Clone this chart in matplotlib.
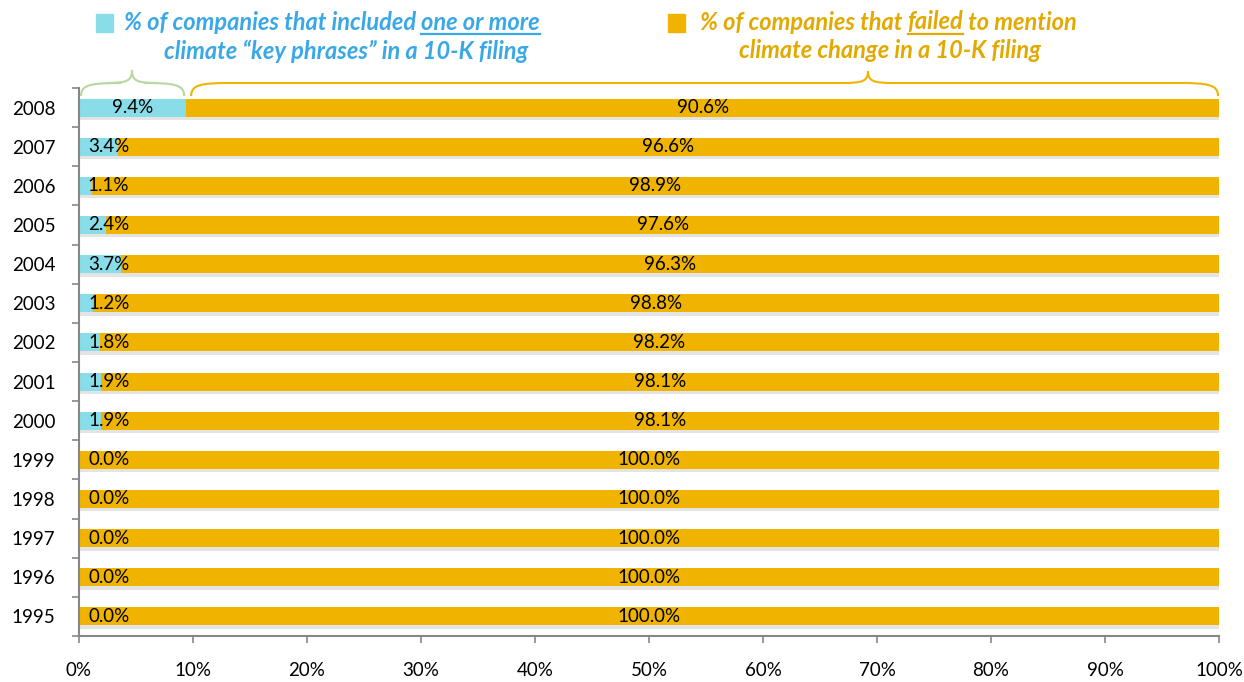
import matplotlib
matplotlib.use("Agg")
import matplotlib.pyplot as plt
import matplotlib.patheffects as pe
from matplotlib.path import Path
from matplotlib.patches import PathPatch, Rectangle

years = ["1995", "1996", "1997", "1998", "1999", "2000", "2001",
         "2002", "2003", "2004", "2005", "2006", "2007", "2008"]
included = [0.0, 0.0, 0.0, 0.0, 0.0, 1.9, 1.9, 1.8, 1.2, 3.7, 2.4, 1.1, 3.4, 9.4]
failed = [100.0, 100.0, 100.0, 100.0, 100.0, 98.1, 98.1, 98.2, 98.8, 96.3, 97.6, 98.9, 96.6, 90.6]
xticks = [0, 10, 20, 30, 40, 50, 60, 70, 80, 90, 100]

CYAN = "#88DDE9"
GOLD = "#F0B400"
BLUE_TXT = "#3AA8E6"
GOLD_TXT = "#E2A900"
GREEN = "#B9D7A0"
AXIS = "#878787"

plt.rcParams["font.family"] = ["Lato", "DejaVu Sans"]

W, H = 1244, 682
fig = plt.figure(figsize=(W / 100, H / 100), dpi=100)
ax = fig.add_axes([79 / W, 1 - 636 / H, (1219 - 79) / W, (636 - 88) / H])

shadow = [pe.SimplePatchShadow(offset=(1, -2.5), shadow_rgbFace="#888888", alpha=0.22), pe.Normal()]
ypos = list(range(len(years)))
b1 = ax.barh(ypos, included, height=0.46, color=CYAN, zorder=2)
b2 = ax.barh(ypos, failed, left=included, height=0.46, color=GOLD, zorder=2)
for bar in list(b1) + list(b2):
    bar.set_path_effects(shadow)

lab = 13.5
for y, a, b in zip(ypos, included, failed):
    ax.text(max(a / 2, 2.6), y, f"{a:.1f}%", ha="center", va="center", fontsize=lab, color="black", zorder=3)
    ax.text(a + b / 2, y, f"{b:.1f}%", ha="center", va="center", fontsize=lab, color="black", zorder=3)

ax.set_xlim(0, 100)
ax.set_ylim(-0.5, len(years) - 0.5)
ax.set_xticks(xticks)
ax.set_xticklabels([f"{t}%" for t in xticks], fontsize=lab)
ax.set_yticks([i - 0.5 for i in range(len(years) + 1)])
ax.set_yticklabels([])
ax.set_yticks(ypos, minor=True)
ax.set_yticklabels(years, minor=True, fontsize=lab)
ax.tick_params(axis="y", which="minor", length=0, pad=17)
ax.tick_params(axis="y", which="major", length=5, color=AXIS, width=1.2)
ax.tick_params(axis="x", length=5, color=AXIS, width=1.2, pad=14)
for s in ["top", "right"]:
    ax.spines[s].set_visible(False)
for s in ["left", "bottom"]:
    ax.spines[s].set_color(AXIS)
    ax.spines[s].set_linewidth(1.5)


def px(x, y):
    return (x / W, 1 - y / H)


def brace(x0, x1, tip, ybase, ytop, ytip, color):
    # curly brace drawn in figure pixel coordinates
    c = 0.6 * (ybase - ytop)
    verts = [px(x0, ybase), px(x0, ytop + c * 0.2), px(x0 + 10, ytop), px(x0 + 40, ytop),
             px(tip - 25, ytop), px(tip - 5, ytop), px(tip, ytop - 2), px(tip, ytip),
             px(tip, ytop - 2), px(tip + 5, ytop), px(tip + 25, ytop), px(x1 - 40, ytop),
             px(x1 - 10, ytop), px(x1, ytop + c * 0.2), px(x1, ybase)]
    codes = [Path.MOVETO, Path.CURVE4, Path.CURVE4, Path.CURVE4, Path.LINETO,
             Path.CURVE4, Path.CURVE4, Path.CURVE4,
             Path.CURVE4, Path.CURVE4, Path.CURVE4, Path.LINETO,
             Path.CURVE4, Path.CURVE4, Path.CURVE4]
    patch = PathPatch(Path(verts, codes), facecolor="none", edgecolor=color, lw=1.5,
                      transform=fig.transFigure, clip_on=False)
    fig.add_artist(patch)


cy_end = 79 + included[-1] / 100 * 1140
brace(81, cy_end - 2, 132, 96, 83, 70, GREEN)
brace(cy_end + 5, 1218, 868, 96, 83, 71, GOLD)

# legend entries
fig.add_artist(Rectangle(px(96, 32), 17 / W, 18 / H, transform=fig.transFigure, color=CYAN))
fig.add_artist(Rectangle(px(668, 32), 17 / W, 18 / H, transform=fig.transFigure, color=GOLD))

tkw = dict(fontsize=17, fontweight="bold", fontstyle="italic", va="center", ha="left")
renderer = fig.canvas.get_renderer()


def underlined_line(x, y, parts, color):
    # parts: list of (text, underline)
    cur = x
    for txt, ul in parts:
        t = fig.text(*px(cur, y), txt, color=color, **tkw)
        bb = t.get_window_extent(renderer)
        if ul:
            fig.add_artist(plt.Line2D([bb.x0 / W, bb.x1 / W], [1 - (y + 12) / H] * 2,
                                      color=color, lw=1.6, transform=fig.transFigure))
        cur = bb.x1


underlined_line(124, 22, [("% of companies that included ", False), ("one or more", True)], BLUE_TXT)
fig.text(*px(346, 51), "climate \u201ckey phrases\u201d in a 10-K filing", color=BLUE_TXT,
         **{**tkw, "ha": "center"})
underlined_line(700, 22, [("% of companies that ", False), ("failed", True), (" to mention", False)], GOLD_TXT)
fig.text(*px(890, 51), "climate change in a 10-K filing", color=GOLD_TXT,
         **{**tkw, "ha": "center"})

fig.savefig("out.png", dpi=100)
